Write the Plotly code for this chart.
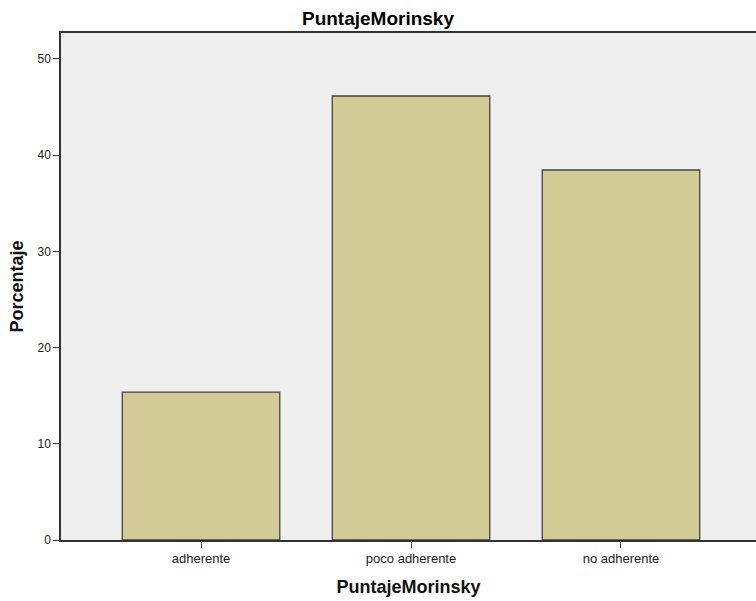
import plotly.graph_objects as go

categories = ["adherente", "poco adherente", "no adherente"]
percent = [15.38, 46.15, 38.46]
y_ticks = [0, 10, 20, 30, 40, 50]

FONT = "Liberation Sans, Arial, Helvetica, sans-serif"

W, H = 756, 601

fig = go.Figure(
    go.Bar(
        x=categories,
        y=percent,
        width=0.75,
        marker=dict(color="#d2cb96", line=dict(color="#444444", width=1.3)),
        hoverinfo="x+y",
    )
)

fig.update_layout(
    width=W,
    height=H,
    margin=dict(l=61, r=0, t=33, b=61),
    paper_bgcolor="white",
    plot_bgcolor="#efefef",
    showlegend=False,
    font=dict(family=FONT, color="#111111"),
    title=dict(
        text="<b>PuntajeMorinsky</b>",
        x=378 / W,
        xref="container",
        xanchor="center",
        y=1 - 18 / H,
        yref="container",
        yanchor="middle",
        font=dict(size=19, color="#000000", family=FONT),
    ),
    xaxis=dict(
        type="category",
        range=[-0.667, 2.643],
        showline=True,
        linecolor="#333333",
        linewidth=1.5,
        mirror=True,
        ticks="outside",
        ticklen=6,
        tickcolor="#333333",
        tickwidth=1,
        tickfont=dict(size=13, color="#222222"),
        showgrid=False,
        zeroline=False,
        title=dict(text="<b>PuntajeMorinsky</b>", font=dict(size=18, color="#111111"), standoff=15),
    ),
    yaxis=dict(
        range=[0, 52.7],
        tickvals=y_ticks,
        showline=True,
        linecolor="#333333",
        linewidth=1.5,
        ticks="outside",
        ticklen=6,
        tickcolor="#333333",
        tickwidth=1,
        tickfont=dict(size=12, color="#222222"),
        showgrid=False,
        zeroline=False,
        title=dict(text="<b>Porcentaje</b>", font=dict(size=18, color="#111111"), standoff=9),
    ),
)

fig.write_html(
    "out.html",
    config={"displayModeBar": False},
    post_script="document.body.style.margin='0px';document.body.style.overflow='hidden';",
)
